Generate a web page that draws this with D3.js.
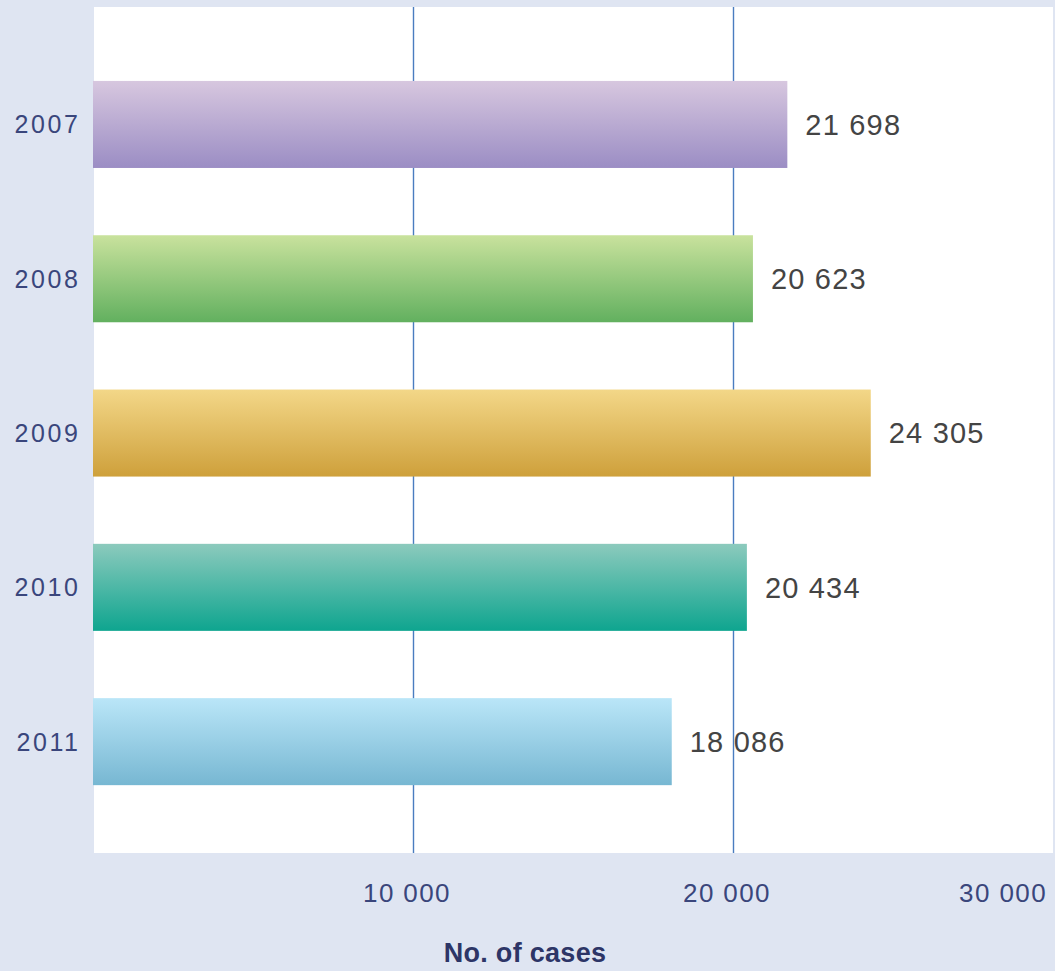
<!DOCTYPE html>
<html>
<head>
<meta charset="utf-8">
<script src="https://cdn.jsdelivr.net/npm/d3@7"></script>
<style>
  html, body { margin: 0; padding: 0; background: #dfe5f2; }
  svg { display: block; }
</style>
</head>
<body>
<svg id="chart" width="1055" height="971"></svg>
<script>
// Cases per year
const years = ["2007", "2008", "2009", "2010", "2011"];
const cases = [21698, 20623, 24305, 20434, 18086];
const valueLabels = ["21 698", "20 623", "24 305", "20 434", "18 086"];
const tickValues = [10000, 20000, 30000];
const tickLabels = ["10 000", "20 000", "30 000"];
const axisTitle = "No. of cases";

// Gradient stops per bar (top colour, bottom colour)
const barTop = ["#d7c7df", "#c9e29d", "#f3d788", "#8ccabd", "#bae6f8"];
const barBottom = ["#9b8dc4", "#62b05f", "#cea03b", "#0ea58f", "#77b7d2"];

const W = 1055, H = 971;
const plot = { left: 94, right: 1053, top: 7, bottom: 853 };

const svg = d3.select("#chart");
svg.append("rect").attr("width", W).attr("height", H).attr("fill", "#dfe5f2");

const x = d3.scaleLinear().domain([0, 30000]).range([93, 1053]);
const y = d3.scaleBand().domain(years)
  .range([47.3, 818.8]).paddingInner(0.436).paddingOuter(0.218);

// White plotting area
svg.append("rect")
  .attr("x", plot.left).attr("y", plot.top)
  .attr("width", plot.right - plot.left).attr("height", plot.bottom - plot.top)
  .attr("fill", "#ffffff");

// Vertical gridlines
svg.append("g").selectAll("line")
  .data(tickValues.slice(0, 2))
  .join("line")
  .attr("x1", d => Math.round(x(d)) + 0.5).attr("x2", d => Math.round(x(d)) + 0.5)
  .attr("y1", plot.top).attr("y2", plot.bottom)
  .attr("stroke", "#4a7dc0").attr("stroke-width", 1.4);

// Gradients
const defs = svg.append("defs");
years.forEach((yr, i) => {
  const g = defs.append("linearGradient").attr("id", "grad" + i)
    .attr("x1", 0).attr("y1", 0).attr("x2", 0).attr("y2", 1);
  g.append("stop").attr("offset", "0%").attr("stop-color", barTop[i]);
  g.append("stop").attr("offset", "100%").attr("stop-color", barBottom[i]);
});

// Bars
svg.append("g").selectAll("rect")
  .data(years)
  .join("rect")
  .attr("x", x(0))
  .attr("y", d => y(d))
  .attr("width", (d, i) => x(cases[i]) - x(0))
  .attr("height", y.bandwidth())
  .attr("fill", (d, i) => `url(#grad${i})`);

// Value labels
svg.append("g").selectAll("text")
  .data(years)
  .join("text")
  .attr("x", (d, i) => x(cases[i]) + 18)
  .attr("y", d => y(d) + y.bandwidth() / 2)
  .attr("dy", "0.36em")
  .attr("font-family", "Liberation Sans, Arial, sans-serif")
  .attr("font-size", 29)
  .attr("letter-spacing", 1.2)
  .attr("fill", "#444444")
  .text((d, i) => valueLabels[i]);

// Year labels (trailing letter-spacing compensated in x)
svg.append("g").selectAll("text")
  .data(years)
  .join("text")
  .attr("x", 80.6)
  .attr("y", d => y(d) + y.bandwidth() / 2)
  .attr("dy", "0.36em")
  .attr("text-anchor", "end")
  .attr("font-family", "Liberation Sans, Arial, sans-serif")
  .attr("font-size", 25)
  .attr("letter-spacing", 2.6)
  .attr("fill", "#3a467c")
  .text(d => d);

// Tick labels under the plot
const tickG = svg.append("g");
tickValues.forEach((v, i) => {
  const t = tickG.append("text")
    .attr("y", 902)
    .attr("font-family", "Liberation Sans, Arial, sans-serif")
    .attr("font-size", 26)
    .attr("letter-spacing", 1.4)
    .attr("fill", "#3a467c")
    .attr("text-anchor", "middle")
    .text(tickLabels[i]);
  const half = t.node().getComputedTextLength() / 2;
  const cx = Math.min(x(v) - 6, 1047 - half);
  t.attr("x", cx);
});

// Axis title
svg.append("text")
  .attr("x", 525)
  .attr("y", 962)
  .attr("text-anchor", "middle")
  .attr("font-family", "Liberation Sans, Arial, sans-serif")
  .attr("font-weight", "bold")
  .attr("font-size", 27)
  .attr("letter-spacing", 0.3)
  .attr("fill", "#2d3567")
  .text(axisTitle);
</script>
</body>
</html>
